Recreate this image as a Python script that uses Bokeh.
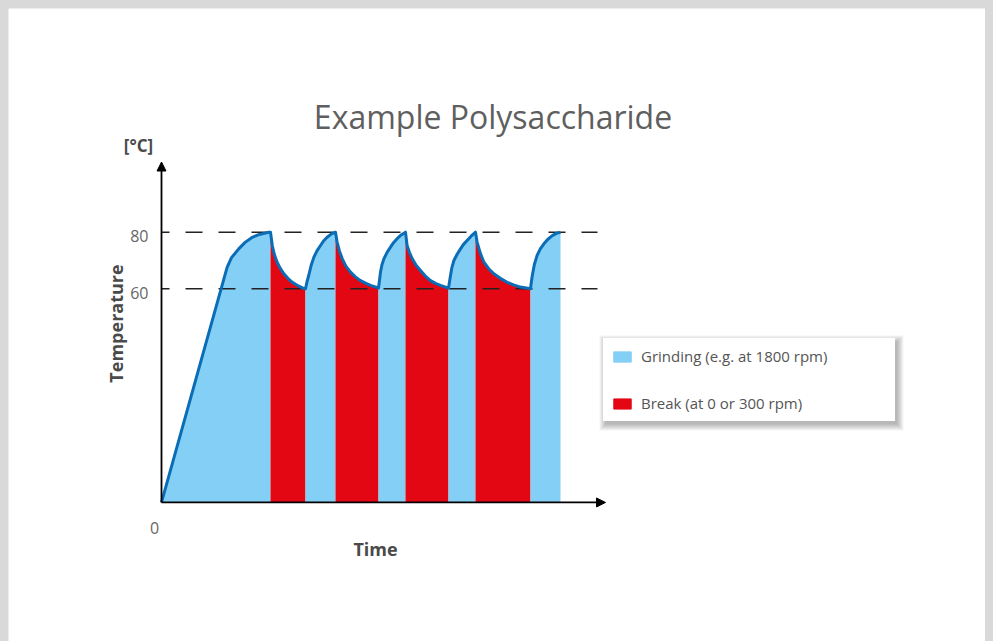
from bokeh.plotting import figure
from bokeh.models import Range1d, Label, Arrow, NormalHead, Legend, LegendItem
from bokeh.core.properties import value
from bokeh.embed import file_html
from bokeh.resources import INLINE

# ---------------- data ----------------
# time in arbitrary units, temperature in degC (schematic profile)
g1_time = [0.0, 16.4, 17.5, 19.3, 20.9, 22.7, 24.0, 25.2, 26.8, 27.25]
g1_temp = [-15.5, 67.6, 71.0, 74.1, 76.4, 78.2, 79.0, 79.4, 80.0, 80.0]
b1_time = [27.25, 27.7, 28.2, 28.9, 29.7, 30.6, 31.6, 32.7, 34.2, 35.8, 36.0]
b1_temp = [80.0, 75.3, 72.2, 69.4, 67.2, 65.3, 63.7, 62.3, 61.0, 60.0, 60.0]
g2_time = [36.0, 36.4, 36.8, 37.4, 38.1, 38.9, 39.75, 40.5, 41.4, 42.5, 43.5]
g2_temp = [60.0, 62.6, 64.7, 68.2, 71.2, 73.5, 75.3, 76.9, 78.2, 79.4, 80.0]
b2_time = [43.5, 43.9, 44.5, 45.2, 46.1, 47.25, 48.4, 49.75, 51.0, 52.25, 54.25]
b2_temp = [80.0, 76.5, 73.3, 70.6, 68.0, 65.9, 64.3, 62.9, 62.0, 61.2, 60.3]
g3_time = [54.25, 54.5, 54.75, 55.1, 55.6, 56.4, 57.25, 58.0, 58.9, 59.8, 61.0]
g3_temp = [60.3, 63.0, 65.9, 68.4, 70.6, 72.9, 74.7, 76.3, 77.7, 78.9, 80.0]
b3_time = [61.0, 61.4, 62.0, 62.7, 63.6, 64.75, 65.9, 67.25, 68.5, 69.75, 71.75]
b3_temp = [80.0, 75.3, 72.8, 70.6, 68.4, 66.5, 64.6, 62.9, 61.9, 61.2, 60.2]
g4_time = [71.75, 72.0, 72.25, 72.6, 73.1, 73.9, 74.75, 75.5, 76.4, 77.4, 78.5]
g4_temp = [60.2, 62.5, 64.7, 67.5, 70.0, 72.2, 74.1, 75.7, 77.1, 78.6, 80.0]
b4_time = [78.5, 78.9, 79.7, 80.6, 81.8, 83.1, 84.7, 86.4, 88.0, 89.75, 92.25]
b4_temp = [80.0, 76.5, 72.6, 69.4, 67.1, 65.3, 63.7, 62.3, 61.4, 60.6, 60.0]
g5_time = [92.25, 92.45, 92.7, 93.2, 93.9, 94.7, 95.6, 96.6, 97.7, 98.7, 99.75]
g5_temp = [60.0, 62.3, 64.7, 68.5, 71.8, 74.1, 75.9, 77.5, 78.8, 79.6, 80.0]

phase_kinds = ["Grinding", "Break", "Grinding", "Break", "Grinding",
               "Break", "Grinding", "Break", "Grinding"]
phase_times = [g1_time, b1_time, g2_time, b2_time, g3_time,
               b3_time, g4_time, b4_time, g5_time]
phase_temps = [g1_temp, b1_temp, g2_temp, b2_temp, g3_temp,
               b3_temp, g4_temp, b4_temp, g5_temp]

levels = [60, 80]
level_labels = ["60", "80"]
legend_labels = {"Grinding": "Grinding (e.g. at 1800 rpm)",
                 "Break": "Break (at 0 or 300 rpm)"}
title_text = "Example Polysaccharide"
x_title, y_title, y_unit, origin_label = "Time", "Temperature", "[°C]", "0"

# ---------------- styling / layout ----------------
COL = {"Grinding": "#83CFF5", "Break": "#E30613"}
LINE_COL = "#0B6DB6"
FONT = "Open Sans"
T_AXIS = g1_temp[0]          # temperature at the axis origin

W, H = 977, 633              # figure size; page offset 8px
PX_X, PX_Y = 4.0, 2.83       # pixels per data unit
ORIG_PX, REF_PY, REF_T = 161, 288.3, 60.0

def sx(px):   # page pixel -> data x
    return (px - ORIG_PX) / PX_X

def sy(py):   # page pixel -> data y
    return REF_T + (REF_PY - py) / PX_Y

p = figure(width=W, height=H, output_backend="svg", toolbar_location=None,
           x_range=Range1d(sx(8), sx(8 + W)), y_range=Range1d(sy(8 + H), sy(8)),
           x_axis_location=None, y_axis_location=None,
           min_border_left=0, min_border_right=0, min_border_top=0, min_border_bottom=0)
p.background_fill_color = "white"
p.border_fill_color = "white"
p.outline_line_color = None
p.grid.visible = False

# legend shadow (layered soft rectangles, offset to the lower right)
for k in range(1, 8):
    p.quad(left=sx(603 + 3 - k), right=sx(895 + 1 + k),
           top=sy(338 + 4 - k), bottom=sy(421 + 2 + k),
           fill_color="#000000", fill_alpha=0.045, line_color=None)

# filled phases
renderers = {"Grinding": [], "Break": []}
for kind, t, temp in zip(phase_kinds, phase_times, phase_temps):
    r = p.varea(x=t, y1=T_AXIS, y2=temp, fill_color=COL[kind], fill_alpha=1.0)
    renderers[kind].append(r)

# dashed reference levels
p.segment(x0=[0] * len(levels), x1=[sx(597)] * len(levels), y0=levels, y1=levels,
          line_color="#222222", line_width=1.5, line_dash="17 16", line_dash_offset=9)

# temperature profile line
all_t = [v for t in phase_times for v in t]
all_T = [v for temp in phase_temps for v in temp]
p.line(all_t, all_T, line_color=LINE_COL, line_width=3, line_join="round")

# level tick labels
p.text(x=[sx(148)] * len(levels), y=levels, text=level_labels, y_offset=4,
       text_align="right", text_baseline="middle", text_font=value(FONT),
       text_font_size="16px", text_color="#666666")

# axes arrows
for xe, ye in [(0, sy(161.5)), (sx(605), T_AXIS)]:
    p.add_layout(Arrow(end=NormalHead(size=9, fill_color="black", line_color="black"),
                       x_start=0, y_start=T_AXIS, x_end=xe, y_end=ye,
                       line_color="black", line_width=1.8))

# texts
def add_text(text, px, py, size, color, style="normal", angle=0.0):
    p.add_layout(Label(x=sx(px), y=sy(py), text=text, text_font=FONT,
                       text_font_size=size, text_color=color, text_font_style=style,
                       angle=angle, text_align="center", text_baseline="middle"))

add_text(title_text, 492.5, 116, "32px", "#5f5f5f")
add_text(y_unit, 138, 145, "17px", "#4a4a4a", "bold")
add_text(y_title, 115, 323, "18px", "#4a4a4a", "bold", 1.5707963)
add_text(x_title, 375, 548, "18px", "#4a4a4a", "bold")
add_text(origin_label, 154, 527, "16px", "#666666")

# legend
legend = Legend(items=[LegendItem(label=legend_labels["Grinding"], renderers=renderers["Grinding"]),
                       LegendItem(label=legend_labels["Break"], renderers=renderers["Break"])],
                location=(603 - 8, 8 + H - 421), orientation="vertical", padding=8, spacing=27,
                glyph_width=22, glyph_height=13, label_standoff=8, label_width=246,
                label_height=20, label_text_font=FONT, label_text_font_size="15px",
                label_text_color="#555555", border_line_color="#ffffff", border_line_alpha=0.0,
                background_fill_color="white", background_fill_alpha=1.0, margin=0)
p.add_layout(legend)

html = file_html(p, INLINE)
style = ("<style>html{background:#d9d9d9;overflow:hidden;}"
         "html,body{height:auto !important;}"
         "body{background:#d9d9d9 !important;margin:8px 8px 0 8px !important;"
         "padding:0 !important;overflow:hidden;}</style>")
html = html.replace("</head>", style + "</head>", 1)
open("out.html", "w").write(html)
